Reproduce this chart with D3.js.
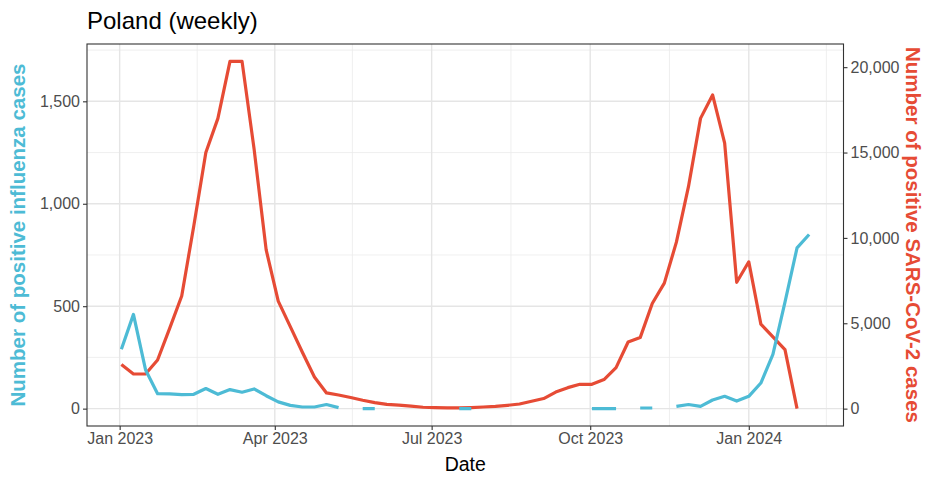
<!DOCTYPE html>
<html>
<head>
<meta charset="utf-8">
<script src="https://cdn.jsdelivr.net/npm/d3@7"></script>
<style>
  body { margin: 0; background: #fff; }
  text { font-family: "Liberation Sans", Arial, sans-serif; }
</style>
</head>
<body>
<svg id="chart" width="925" height="478"></svg>
<script>
// ---- data (weekly, starting Monday 2 Jan 2023) ----
const startDate = "2023-01-02";
const influenza = [290, 460, 190, 73, 72, 68, 70, 98, 70, 93, 80, 96, 63, 33, 16, 8, 8, 20, 5, null,
  0, 0, null, null, null, null, null, null, 0, 0, null, null, null, null, null, null, null, null, null,
  0, 0, 0, null, 3, 3, null, 11, 20, 11, 42, 60, 37, 60, 125, 265, 520, 785, 850];
const sarsCov2 = [2580, 2030, 2030, 2850, 4700, 6600, 10700, 15000, 17000, 20340, 20340, 15200, 9300, 6300,
  4800, 3300, 1850, 920, 800, 650, 490, 350, 250, 210, 150, 80, 60, 40, 40, 60, 95, 135, 195, 270, 430,
  590, 970, 1230, 1425, 1425, 1700, 2400, 3900, 4160, 6160, 7350, 9750, 13000, 17000, 18375, 15550,
  7400, 8600, 4950, 4200, 3460, 0];
const xTickDates = ["2023-01-01", "2023-04-01", "2023-07-01", "2023-10-01", "2024-01-01"];
const xMinorDates = ["2023-02-15", "2023-05-16", "2023-08-16", "2023-11-16", "2024-02-15"];
const leftTicks = [0, 500, 1000, 1500];
const leftMinor = [250, 750, 1250, 1750];
const rightTicks = [0, 5000, 10000, 15000, 20000];
const secRatio = 12;

const colFlu = "#4DBBD5", colCov = "#E64B35";
const parse = d3.utcParse("%Y-%m-%d");
const t0 = parse(startDate);
const week = i => new Date(t0.getTime() + i * 7 * 86400000);

const fluData = influenza.map((v, i) => ({ date: week(i), v }));
const covData = sarsCov2.map((v, i) => ({ date: week(i), v }));

const svg = d3.select("#chart");
const P = { left: 87, right: 843.5, top: 44, bottom: 426 };

// x scale with 5% expansion like ggplot
const xExt = d3.extent(fluData.concat(covData), d => d.date);
const span = xExt[1] - xExt[0];
const x = d3.scaleUtc()
  .domain([new Date(+xExt[0] - 0.05 * span), new Date(+xExt[1] + 0.05 * span)])
  .range([P.left, P.right]);

const maxL = Math.max(d3.max(influenza), d3.max(sarsCov2) / secRatio);
const yL = d3.scaleLinear().domain([-0.05 * maxL, 1.05 * maxL]).range([P.bottom, P.top]);
const yR = d3.scaleLinear().domain([-0.05 * maxL * secRatio, 1.05 * maxL * secRatio]).range([P.bottom, P.top]);

// panel background + grid
const g = svg.append("g");
g.append("rect").attr("x", P.left).attr("y", P.top).attr("width", P.right - P.left).attr("height", P.bottom - P.top).attr("fill", "#fff");
g.selectAll(".hmin").data(leftMinor.filter(v => yL(v) > P.top)).join("line")
  .attr("x1", P.left).attr("x2", P.right).attr("y1", d => yL(d)).attr("y2", d => yL(d))
  .attr("stroke", "#EBEBEB").attr("stroke-width", 0.8);
g.selectAll(".vmin").data(xMinorDates.map(parse).filter(d => x(d) < P.right)).join("line")
  .attr("y1", P.top).attr("y2", P.bottom).attr("x1", d => x(d)).attr("x2", d => x(d))
  .attr("stroke", "#EBEBEB").attr("stroke-width", 0.8);
g.selectAll(".hmaj").data(leftTicks).join("line")
  .attr("x1", P.left).attr("x2", P.right).attr("y1", d => yL(d)).attr("y2", d => yL(d))
  .attr("stroke", "#E5E5E5").attr("stroke-width", 1.4);
g.selectAll(".vmaj").data(xTickDates.map(parse)).join("line")
  .attr("y1", P.top).attr("y2", P.bottom).attr("x1", d => x(d)).attr("x2", d => x(d))
  .attr("stroke", "#E5E5E5").attr("stroke-width", 1.4);

// lines
const lineF = d3.line().defined(d => d.v != null).x(d => x(d.date)).y(d => yL(d.v));
const lineC = d3.line().defined(d => d.v != null).x(d => x(d.date)).y(d => yR(d.v));
svg.append("path").datum(covData).attr("d", lineC).attr("fill", "none")
  .attr("stroke", colCov).attr("stroke-width", 3.2).attr("stroke-linejoin", "round");
svg.append("path").datum(fluData).attr("d", lineF).attr("fill", "none")
  .attr("stroke", colFlu).attr("stroke-width", 3.2).attr("stroke-linejoin", "round");

// border
svg.append("rect").attr("x", P.left).attr("y", P.top).attr("width", P.right - P.left).attr("height", P.bottom - P.top)
  .attr("fill", "none").attr("stroke", "#333333").attr("stroke-width", 1.1);

// axes
const fmt = d3.format(",");
const styleAxis = sel => {
  sel.select(".domain").remove();
  sel.selectAll(".tick line").attr("stroke", "#333333").attr("stroke-width", 1.1);
  sel.selectAll(".tick text").attr("fill", "#4D4D4D").style("font-size", "16px")
    .style("font-family", '"Liberation Sans", Arial, sans-serif');
};
svg.append("g").attr("transform", `translate(0,${P.bottom})`)
  .call(d3.axisBottom(x).tickValues(xTickDates.map(parse)).tickFormat(d3.utcFormat("%b %Y")).tickSize(4).tickPadding(3))
  .call(styleAxis);
svg.append("g").attr("transform", `translate(${P.left},0)`)
  .call(d3.axisLeft(yL).tickValues(leftTicks).tickFormat(fmt).tickSize(4).tickPadding(3))
  .call(styleAxis);
svg.append("g").attr("transform", `translate(${P.right},0)`)
  .call(d3.axisRight(yR).tickValues(rightTicks).tickFormat(fmt).tickSize(4).tickPadding(3))
  .call(styleAxis);

// titles
svg.append("text").attr("x", P.left).attr("y", 29).text("Poland (weekly)")
  .style("font-size", "24px").attr("fill", "#000");
svg.append("text").attr("x", (P.left + P.right) / 2).attr("y", 471).attr("text-anchor", "middle")
  .text("Date").style("font-size", "19.5px").attr("fill", "#000");
svg.append("text").attr("transform", `translate(25,${(P.top + P.bottom) / 2}) rotate(-90)`)
  .attr("text-anchor", "middle").text("Number of positive influenza cases")
  .style("font-size", "20.5px").style("font-weight", "bold").attr("fill", colFlu);
svg.append("text").attr("transform", `translate(906,${(P.top + P.bottom) / 2}) rotate(90)`)
  .attr("text-anchor", "middle").text("Number of positive SARS-CoV-2 cases")
  .style("font-size", "20.5px").style("font-weight", "bold").attr("fill", colCov);
</script>
</body>
</html>
